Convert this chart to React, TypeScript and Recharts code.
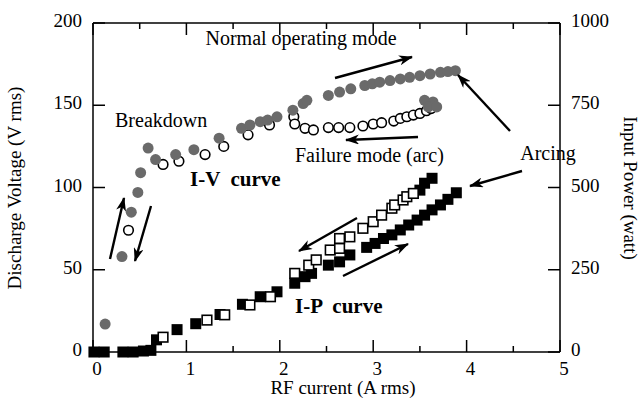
import React from "react";
import { ReferenceLine, Scatter, ScatterChart, XAxis, YAxis } from "recharts";

// current (A rms) vs discharge voltage (V rms)
const ivNormal = [
  { i: 0.13, v: 17 }, { i: 0.31, v: 58 }, { i: 0.41, v: 85 }, { i: 0.48, v: 97 },
  { i: 0.51, v: 109 }, { i: 0.59, v: 124 }, { i: 0.67, v: 117 }, { i: 0.885, v: 120 },
  { i: 1.08, v: 123 }, { i: 1.35, v: 130 }, { i: 1.59, v: 136 }, { i: 1.68, v: 138 },
  { i: 1.79, v: 140 }, { i: 1.87, v: 141 }, { i: 1.97, v: 143 }, { i: 2.14, v: 147 },
  { i: 2.25, v: 151 }, { i: 2.29, v: 153 }, { i: 2.52, v: 156 }, { i: 2.64, v: 158 },
  { i: 2.76, v: 160 }, { i: 2.91, v: 162 }, { i: 2.99, v: 163 }, { i: 3.07, v: 164 },
  { i: 3.18, v: 165 }, { i: 3.29, v: 166 }, { i: 3.39, v: 167 }, { i: 3.5, v: 168 },
  { i: 3.61, v: 169 }, { i: 3.72, v: 170 }, { i: 3.8, v: 170.5 }, { i: 3.88, v: 171 },
  { i: 3.55, v: 153 }, { i: 3.64, v: 152 }, { i: 3.59, v: 149 }, { i: 3.68, v: 149 },
];

const ivFailure = [
  { i: 0.38, v: 74 }, { i: 0.75, v: 114 }, { i: 0.92, v: 116 }, { i: 1.2, v: 120 },
  { i: 1.4, v: 125 }, { i: 1.66, v: 132 }, { i: 1.89, v: 138 }, { i: 2.15, v: 143 },
  { i: 2.16, v: 138.6 }, { i: 2.27, v: 136 }, { i: 2.36, v: 135 }, { i: 2.52, v: 136.4 },
  { i: 2.63, v: 136.4 }, { i: 2.75, v: 136.4 }, { i: 2.89, v: 137.4 }, { i: 3.0, v: 138.6 },
  { i: 3.09, v: 139.4 }, { i: 3.22, v: 140.4 }, { i: 3.29, v: 142 }, { i: 3.36, v: 143 },
  { i: 3.43, v: 144 }, { i: 3.5, v: 145 }, { i: 3.57, v: 146.7 }, { i: 3.62, v: 148 },
];

// current (A rms) vs input power (watt)
const ipNormal = [
  { i: 0.01, p: 0 }, { i: 0.12, p: 0 }, { i: 0.32, p: 0 }, { i: 0.43, p: 0 },
  { i: 0.54, p: 3 }, { i: 0.62, p: 5 }, { i: 0.68, p: 37 }, { i: 0.9, p: 68 },
  { i: 1.1, p: 86 }, { i: 1.36, p: 114 }, { i: 1.6, p: 145 }, { i: 1.79, p: 168 },
  { i: 1.97, p: 183 }, { i: 2.16, p: 209 }, { i: 2.27, p: 229 }, { i: 2.34, p: 239 },
  { i: 2.52, p: 264 }, { i: 2.64, p: 274 }, { i: 2.75, p: 295 }, { i: 2.93, p: 318 },
  { i: 3.02, p: 330 }, { i: 3.11, p: 345 }, { i: 3.2, p: 356 }, { i: 3.29, p: 371 },
  { i: 3.38, p: 386 }, { i: 3.47, p: 401 }, { i: 3.55, p: 416 }, { i: 3.63, p: 432 },
  { i: 3.72, p: 447 }, { i: 3.8, p: 464 }, { i: 3.89, p: 484 }, { i: 3.5, p: 492 },
  { i: 3.55, p: 513 }, { i: 3.63, p: 528 },
];

const ipFailure = [
  { i: 0.75, p: 45 }, { i: 1.22, p: 97 }, { i: 1.41, p: 113 }, { i: 1.68, p: 143 },
  { i: 1.9, p: 168 }, { i: 2.16, p: 239 }, { i: 2.31, p: 264 }, { i: 2.39, p: 280 },
  { i: 2.54, p: 310 }, { i: 2.64, p: 315 }, { i: 2.64, p: 345 }, { i: 2.75, p: 350 },
  { i: 2.89, p: 376 }, { i: 3.0, p: 396 }, { i: 3.09, p: 416 }, { i: 3.2, p: 437 },
  { i: 3.23, p: 447 }, { i: 3.32, p: 462 }, { i: 3.36, p: 472 }, { i: 3.43, p: 482 },
];

const X_TICKS = [0, 0.5, 1, 1.5, 2, 2.5, 3, 3.5, 4, 4.5, 5];
const V_TICKS = [0, 50, 100, 150, 200];
const P_TICKS = [0, 250, 500, 750, 1000];

const W = 643;
const H = 401;
const PLOT = { left: 93, top: 23, right: 560, bottom: 352 };
const FONT = '"Liberation Serif", "Times New Roman", serif';
const INK = "#000";

const XTick = ({ x, payload }: any) => {
  const major = Number.isInteger(payload.value);
  const len = major ? 12 : 6;
  return (
    <g>
      <line x1={x} x2={x} y1={PLOT.bottom} y2={PLOT.bottom - len} stroke={INK} strokeWidth={1.5} />
      <line x1={x} x2={x} y1={PLOT.top} y2={PLOT.top + len} stroke={INK} strokeWidth={1.5} />
      {major && (
        <text x={x + 4} y={375} textAnchor="middle" fontFamily={FONT} fontSize={19} fill={INK}>
          {payload.value}
        </text>
      )}
    </g>
  );
};

const LeftTick = ({ y, payload }: any) => (
  <g>
    <line x1={PLOT.left} x2={PLOT.left + 12} y1={y} y2={y} stroke={INK} strokeWidth={1.5} />
    <text x={82} y={y + 4} textAnchor="end" fontFamily={FONT} fontSize={19} fill={INK}>
      {payload.value}
    </text>
  </g>
);

const RightTick = ({ y, payload }: any) => (
  <g>
    <line x1={PLOT.right - 12} x2={PLOT.right} y1={y} y2={y} stroke={INK} strokeWidth={1.5} />
    <text x={571} y={y + 4} textAnchor="start" fontFamily={FONT} fontSize={19} fill={INK}>
      {payload.value}
    </text>
  </g>
);

const FilledDot = ({ cx, cy }: any) => <circle cx={cx} cy={cy} r={5.5} fill="#6a6a6a" />;
const OpenDot = ({ cx, cy }: any) => (
  <circle cx={cx} cy={cy} r={4.8} fill="#fff" stroke={INK} strokeWidth={1.6} />
);
const FilledSquare = ({ cx, cy }: any) => <rect x={cx - 5.5} y={cy - 5.5} width={11} height={11} fill={INK} />;
const OpenSquare = ({ cx, cy }: any) => (
  <rect x={cx - 4.8} y={cy - 4.8} width={9.6} height={9.6} fill="#fff" stroke={INK} strokeWidth={1.6} />
);

function Arrow({ x1, y1, x2, y2 }: { x1: number; y1: number; x2: number; y2: number }) {
  return <line x1={x1} y1={y1} x2={x2} y2={y2} stroke={INK} strokeWidth={2.4} markerEnd="url(#head)" />;
}

export default function App() {
  return (
    <div style={{ position: "absolute", left: 0, top: 0, width: W, height: H, background: "#fff" }}>
      <ScatterChart width={W} height={H} margin={{ top: PLOT.top, right: 0, bottom: 0, left: 0 }}>
        <XAxis
          xAxisId="x"
          dataKey="i"
          type="number"
          domain={[0, 5]}
          ticks={X_TICKS}
          interval={0}
          height={H - PLOT.bottom}
          tickLine={false}
          axisLine={{ stroke: INK, strokeWidth: 1.5 }}
          tick={<XTick />}
        />
        <YAxis
          yAxisId="v"
          dataKey="v"
          type="number"
          domain={[0, 200]}
          ticks={V_TICKS}
          interval={0}
          width={PLOT.left}
          tickLine={false}
          axisLine={{ stroke: INK, strokeWidth: 1.5 }}
          tick={<LeftTick />}
        />
        <YAxis
          yAxisId="p"
          orientation="right"
          dataKey="p"
          type="number"
          domain={[0, 1000]}
          ticks={P_TICKS}
          interval={0}
          width={W - PLOT.right}
          tickLine={false}
          axisLine={{ stroke: INK, strokeWidth: 1.5 }}
          tick={<RightTick />}
        />
        <ReferenceLine xAxisId="x" yAxisId="v" y={200} stroke={INK} strokeWidth={1.5} />
        <Scatter xAxisId="x" yAxisId="p" data={ipNormal} shape={<FilledSquare />} isAnimationActive={false} />
        <Scatter xAxisId="x" yAxisId="p" data={ipFailure} shape={<OpenSquare />} isAnimationActive={false} />
        <Scatter xAxisId="x" yAxisId="v" data={ivFailure} shape={<OpenDot />} isAnimationActive={false} />
        <Scatter xAxisId="x" yAxisId="v" data={ivNormal} shape={<FilledDot />} isAnimationActive={false} />
      </ScatterChart>

      <svg
        width={W}
        height={H}
        style={{ position: "absolute", left: 0, top: 0, pointerEvents: "none" }}
        fontFamily={FONT}
        fill={INK}
      >
        <defs>
          <marker id="head" viewBox="0 0 14 10" refX="13" refY="5" markerWidth="14" markerHeight="10" markerUnits="userSpaceOnUse" orient="auto">
            <path d="M0,0 L14,5 L0,10 L4,5 z" fill={INK} />
          </marker>
        </defs>

        <text x={17} y={188} fontSize={19} textAnchor="middle" transform="rotate(-90 17 188)" dominantBaseline="middle">
          Discharge Voltage (V rms)
        </text>
        <text x={628} y={188} fontSize={19} textAnchor="middle" transform="rotate(90 628 188)" dominantBaseline="middle">
          Input Power (watt)
        </text>
        <text x={343} y={394} fontSize={19} textAnchor="middle">RF current (A rms)</text>

        <text x={301} y={45} fontSize={20} textAnchor="middle">Normal operating mode</text>
        <text x={115} y={127} fontSize={20}>Breakdown</text>
        <text x={190} y={186} fontSize={21} fontWeight="bold" xmlSpace="preserve">I-V  curve</text>
        <text x={295} y={162} fontSize={20}>Failure mode (arc)</text>
        <text x={295} y={313} fontSize={21} fontWeight="bold" xmlSpace="preserve">I-P  curve</text>
        <text x={548} y={160} fontSize={20} textAnchor="middle">Arcing</text>

        <Arrow x1={335} y1={78} x2={412} y2={57} />
        <Arrow x1={510} y1={131} x2={458} y2={75} />
        <Arrow x1={418} y1={137} x2={346} y2={140} />
        <Arrow x1={522} y1={171} x2={470} y2={186} />
        <Arrow x1={357} y1={218} x2={299} y2={251} />
        <Arrow x1={343} y1={276} x2={408} y2={244} />
        <Arrow x1={110} y1={259} x2={124} y2={198} />
        <Arrow x1={151} y1={206} x2={135} y2={261} />
      </svg>
    </div>
  );
}
